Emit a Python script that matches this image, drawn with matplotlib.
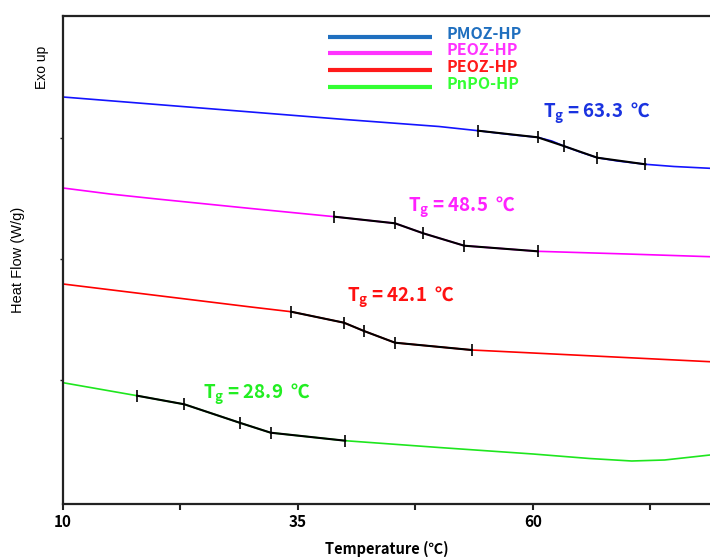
import matplotlib
matplotlib.use("Agg")
import matplotlib.pyplot as plt

# DSC curves, temperature (C) vs heat flow (arbitrary W/g, shifted)
blue_T = [10, 20, 30, 40, 50, 54.15, 58, 60.49, 62, 63.27, 65, 66.84, 69, 71.96, 75, 78.83]
blue_hf = [4.07, 3.995, 3.92, 3.845, 3.775, 3.733, 3.69, 3.667, 3.63, 3.58, 3.52, 3.463, 3.43, 3.397, 3.375, 3.357]

mag_T = [10, 15, 20, 30, 38.88, 45.32, 48.32, 52.68, 60.49, 70, 78.83]
mag_hf = [3.16, 3.10, 3.05, 2.955, 2.873, 2.807, 2.707, 2.583, 2.527, 2.50, 2.473]

red_T = [10, 20, 30, 34.26, 39.89, 42.02, 45.32, 53.48, 65, 78.83]
red_hf = [2.20, 2.085, 1.97, 1.923, 1.813, 1.73, 1.613, 1.54, 1.487, 1.423]

green_T = [10, 17.88, 22.91, 28.78, 32.09, 40.02, 50, 60, 66, 70.5, 74, 78.83]
green_hf = [1.213, 1.083, 0.997, 0.813, 0.713, 0.633, 0.565, 0.50, 0.455, 0.43, 0.44, 0.49]

# tangent construction points (onset / Tg / end)
blue_tan_T = [54.15, 60.49, 63.27, 66.84, 71.96]
blue_tan_hf = [3.733, 3.667, 3.58, 3.463, 3.397]
mag_tan_T = [38.88, 45.32, 48.32, 52.68, 60.49]
mag_tan_hf = [2.873, 2.807, 2.707, 2.583, 2.527]
red_tan_T = [34.26, 39.89, 42.02, 45.32, 53.48]
red_tan_hf = [1.923, 1.813, 1.73, 1.613, 1.54]
green_tan_T = [17.88, 22.91, 28.78, 32.09, 40.02]
green_tan_hf = [1.083, 0.997, 0.813, 0.713, 0.633]

names = ["PMOZ-HP", "PEOZ-HP", "PEOZ-HP", "PnPO-HP"]
tg_values = [63.3, 48.5, 42.1, 28.9]

curve_colors = ["#1414ff", "#ff00ff", "#ff0000", "#1ee61e"]
legend_colors = ["#1f6fbf", "#ff33ff", "#ff1a1a", "#33ff33"]
text_colors = ["#1a33e0", "#ff22ff", "#ff1111", "#22ee22"]

bold_font = ["Noto Sans CJK SC", "DejaVu Sans"]

fig = plt.figure(figsize=(7.1, 5.57), dpi=100)
ax = fig.add_axes([63 / 710, 53 / 557, 1 - 63 / 710, 488 / 557])

curves = [(blue_T, blue_hf), (mag_T, mag_hf), (red_T, red_hf), (green_T, green_hf)]
tangents = [(blue_tan_T, blue_tan_hf), (mag_tan_T, mag_tan_hf),
            (red_tan_T, red_tan_hf), (green_tan_T, green_tan_hf)]

for (t, hf), c in zip(curves, curve_colors):
    ax.plot(t, hf, color=c, lw=1.2, zorder=2)

for t, hf in tangents:
    ax.plot(t, hf, color="black", lw=1.5, marker="|", ms=9, mew=1.2, zorder=3)

# Tg labels
label_pos = [(61.06, 3.863), (46.65, 2.923), (40.25, 2.023), (24.9, 1.057)]
for (x, y), tg, c in zip(label_pos, tg_values, text_colors):
    ax.text(x, y, r"T$_{\mathregular{g}}$ = %.1f  ℃" % tg, color=c, fontsize=13.5,
            fontweight="bold", family=bold_font, va="baseline", ha="left")

# legend drawn by hand
leg_y = [0.9576, 0.9236, 0.8893, 0.8551]
for name, c, y in zip(names, legend_colors, leg_y):
    ax.plot([0.4096, 0.5703], [y, y], color=c, lw=3, transform=ax.transAxes,
            solid_capstyle="butt")
    ax.text(0.5935, y + 0.006, name, color=c, fontsize=11.5, fontweight="bold",
            family=bold_font, va="center", ha="left", transform=ax.transAxes)

ax.set_xlim(10, 78.83)
ax.set_ylim(0, 4.88)
ax.set_xticks([10, 35, 60])
ax.set_xticks([22.5, 47.5, 72.5], minor=True)
ax.set_xticklabels(["10", "35", "60"], fontweight="bold", family=bold_font, fontsize=11)
ax.tick_params(axis="x", which="both", direction="out", length=4, width=1.5, color="#222222", pad=3)
ax.set_yticks([1.24, 2.45, 3.66])
ax.set_yticklabels([])
ax.tick_params(axis="y", direction="out", length=2, width=1, color="#222222")

ax.spines["right"].set_visible(False)
for s in ["left", "bottom", "top"]:
    ax.spines[s].set_linewidth(1.6)
    ax.spines[s].set_color("#222222")

ax.set_xlabel("Temperature (℃)", fontweight="bold", family=bold_font, fontsize=10.5, labelpad=8)
fig.text(18 / 710, 1 - 260 / 557, "Heat Flow (W/g)", rotation=90, va="center", ha="center",
         family="Liberation Sans", fontsize=10.5)
fig.text(42 / 710, 1 - 67 / 557, "Exo up", rotation=90, va="center", ha="center",
         family="Liberation Sans", fontsize=10)

fig.savefig("out.png", dpi=100)
